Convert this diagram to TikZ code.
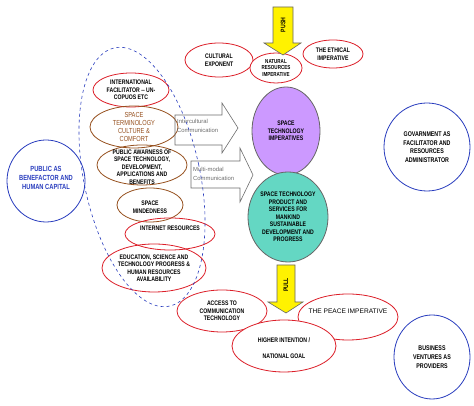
\documentclass[tikz,border=0pt]{standalone}
\usepackage{fontspec}
\setsansfont{Liberation Sans}
\newfontfamily\narrowsf[FakeStretch=0.78]{Liberation Sans}
\usetikzlibrary{shapes.geometric}
\definecolor{ringred}{RGB}{220,30,40}
\definecolor{ringbrown}{RGB}{150,80,30}
\definecolor{ringblue}{RGB}{40,60,190}
\definecolor{imperpurple}{RGB}{204,153,255}
\definecolor{prodteal}{RGB}{100,215,195}
\definecolor{commgray}{RGB}{110,110,110}
\tikzstyle{ring}=[ellipse, draw=ringred, line width=.8pt, inner sep=0]
\tikzstyle{brownring}=[ring, draw=ringbrown]
\tikzstyle{bluering}=[ring, draw=ringblue]
\tikzstyle{txt}=[font=\narrowsf\bfseries\fontsize{6.6}{7.5}\selectfont, align=center, inner sep=0]
\tikzstyle{comm}=[font=\sffamily\fontsize{5.9}{9.5}\selectfont, text=commgray, align=left, inner sep=0, anchor=west]
\tikzstyle{blockarrow}=[draw=commgray, line width=.6pt, line join=miter]
\tikzstyle{yellowarrow}=[fill=yellow, draw=black!60, line width=.6pt]
\newcommand{\ring}[6]{
  \node[#1, minimum width=#5pt, minimum height=#6pt] (#2) at (#3,#4) {};
}

\begin{document}
\begin{tikzpicture}[x=1pt, y=1pt]
  \useasboundingbox[fill=white] (0,0) rectangle (474,406);

  % top row
  \ring{ring, fill=white}{cult}{219}{346}{68}{34}
  \ring{ring, fill=white}{ethic}{333}{352}{60}{28}
  \ring{ring, fill=white}{natres}{276}{338}{52}{30}
  \draw[yellowarrow] (273,399) -- (293,399) -- (293,363) -- (301,363) -- (283,351) -- (264,363) -- (273,363) -- cycle;
  \node[txt, rotate=90] (push) at (283,381) {PUSH};
  \node[txt] at (cult) {CULTURAL\\EXPONENT};
  \node[txt, font=\narrowsf\bfseries\fontsize{5.8}{6.9}\selectfont] at (natres) {NATURAL\\RESOURCES\\IMPERATIVE};
  \node[txt] at (ethic) {THE ETHICAL\\IMPERATIVE};

  % left column
  \ring{ring}{intl}{131}{316}{76}{34}
  \ring{brownring}{term}{134}{279}{88}{42}
  \ring{brownring}{aware}{142}{241}{90}{40}
  \ring{brownring}{mind}{150}{201}{66}{34}
  \ring{ring}{inet}{170}{172}{90}{32}
  \ring{ring}{educ}{154}{138}{104}{48}
  \node[txt] at (intl) {INTERNATIONAL\\FACILITATOR -- UN-\\COPUOS ETC};
  \node[txt, text=ringbrown, font=\narrowsf\fontsize{7.3}{8.1}\selectfont] at (term) {SPACE\\TERMINOLOGY\\CULTURE \&\\COMFORT};
  \node[txt] at ([yshift=-2pt]aware.center) {PUBLIC AWARNESS OF\\SPACE TECHNOLOGY,\\DEVELOPMENT,\\APPLICATIONS AND\\BENEFITS};
  \node[txt] at ([yshift=-2pt]mind.center) {SPACE\\MINDEDNESS};
  \node[txt] at ([yshift=6pt]inet.center) {INTERNET RESOURCES};
  \node[txt] at (educ) {EDUCATION, SCIENCE AND\\TECHNOLOGY PROGRESS \&\\HUMAN RESOURCES\\AVAILABILITY};

  % communication arrows
  \draw[blockarrow] (175,291) -- (222,291) -- (222,303) -- (238,278) -- (222,253) -- (222,261) -- (175,261) -- cycle;
  \draw[blockarrow] (191,245) -- (240,245) -- (240,258) -- (253,231) -- (240,204) -- (240,218) -- (191,218) -- cycle;
  \node[comm] (inter) at (177,280) {Intercultural\\Communication};
  \node[comm] (multi) at (193,232) {Multi-modal\\Communication};

  % centre
  \ring{ring, draw=black!60, fill=imperpurple}{imper}{286}{275}{68}{88}
  \ring{ring, draw=black!60, fill=prodteal}{prod}{288}{189}{80}{90}
  \node[txt] at (imper) {SPACE\\TECHNOLOGY\\IMPERATIVES};
  \node[txt] at (prod) {SPACE TECHNOLOGY\\PRODUCT AND\\SERVICES FOR\\MANKIND\\SUSTAINABLE\\DEVELOPMENT AND\\PROGRESS};

  % bottom row
  \ring{ring, fill=white}{access}{222}{95}{90}{42}
  \ring{ring, fill=white}{peace}{348}{89}{100}{46}
  \ring{ring, fill=white}{higher}{284}{60}{104}{52}
  \draw[yellowarrow] (277,141) -- (295,141) -- (295,104) -- (303,104) -- (286,93) -- (268,104) -- (277,104) -- cycle;
  \node[txt, rotate=90] (pull) at (286,121) {PULL};
  \node[txt] at (access) {ACCESS TO\\COMMUNICATION\\TECHNOLOGY};
  \node[txt, font=\sffamily\fontsize{6.6}{8}\selectfont] at ([yshift=6pt]peace.center) {THE PEACE IMPERATIVE};
  \node[txt, font=\narrowsf\bfseries\fontsize{6.6}{16}\selectfont] at ([yshift=-2pt]higher.center) {HIGHER INTENTION /\\NATIONAL GOAL};

  % actors
  \ring{bluering}{public}{46}{225}{78}{82}
  \ring{bluering}{govt}{427}{259}{86}{88}
  \ring{bluering}{biz}{432}{49}{76}{84}
  \node[txt, text=ringblue, font=\narrowsf\bfseries\fontsize{7.4}{9}\selectfont] at ([yshift=3pt]public.center) {PUBLIC AS\\BENEFACTOR AND\\HUMAN CAPITAL};
  \node[txt, font=\narrowsf\bfseries\fontsize{6.8}{8.6}\selectfont] at (govt) {GOVARNMENT AS\\FACILITATOR AND\\RESOURCES\\ADMINISTRATOR};
  \node[txt, font=\narrowsf\bfseries\fontsize{6.8}{8.8}\selectfont] at (biz) {BUSINESS\\VENTURES AS\\PROVIDERS};

  % public domain
  \draw[ringblue, dashed, line width=.6pt, rotate around={12:(142,229)}] (142,229) ellipse (58 and 132);
\end{tikzpicture}
\end{document}
